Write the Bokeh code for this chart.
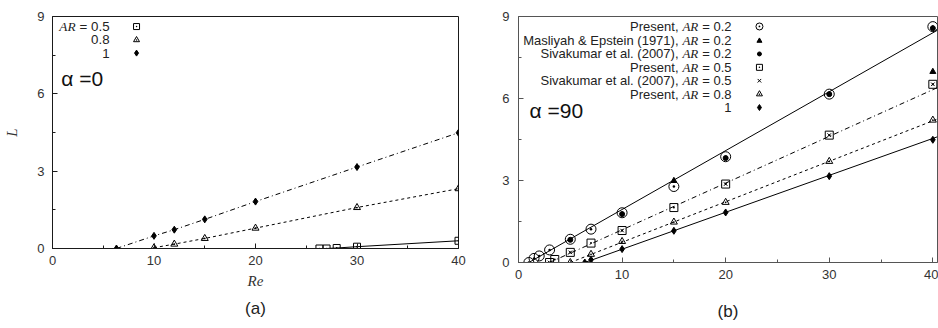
from bokeh.plotting import figure
from bokeh.models import FixedTicker, Range1d, Title
from bokeh.layouts import row
from bokeh.embed import file_html
from bokeh.resources import INLINE
from bokeh.core.properties import value

# ---------------- data: panel (a), alpha = 0 ----------------
a_re_05 = [26.3, 27.0, 28.0, 30.0, 40.0]
a_L_05 = [0.0, 0.0, 0.02, 0.07, 0.30]
a_re_08 = [10.0, 12.0, 15.0, 20.0, 30.0, 40.0]
a_L_08 = [0.03, 0.17, 0.39, 0.79, 1.59, 2.32]
a_re_10 = [6.3, 10.0, 12.0, 15.0, 20.0, 30.0, 40.0]
a_L_10 = [0.0, 0.49, 0.73, 1.13, 1.82, 3.16, 4.49]

# ---------------- data: panel (b), alpha = 90 ----------------
b_re_02 = [1.0, 1.5, 2.0, 3.0, 5.0, 7.0, 10.0, 15.0, 20.0, 30.0, 40.0]
b_L_02 = [0.0, 0.15, 0.24, 0.46, 0.85, 1.22, 1.82, 2.78, 3.87, 6.16, 8.63]
b_re_me02 = [15.0, 40.0]
b_L_me02 = [2.99, 6.98]
b_re_sk02 = [5.0, 10.0, 20.0, 30.0, 40.0]
b_L_sk02 = [0.83, 1.77, 3.82, 6.16, 8.57]
b_re_05 = [3.0, 3.5, 5.0, 7.0, 10.0, 15.0, 20.0, 30.0, 40.0]
b_L_05 = [0.0, 0.11, 0.37, 0.71, 1.17, 2.01, 2.87, 4.66, 6.52]
b_re_sk05 = [3.0, 5.0, 10.0, 20.0, 30.0, 40.0]
b_L_sk05 = [0.0, 0.37, 1.17, 2.87, 4.66, 6.52]
b_re_08 = [5.0, 7.0, 10.0, 15.0, 20.0, 30.0, 40.0]
b_L_08 = [0.0, 0.30, 0.77, 1.48, 2.20, 3.70, 5.21]
b_re_10 = [6.4, 7.0, 10.0, 15.0, 20.0, 30.0, 40.0]
b_L_10 = [0.0, 0.10, 0.49, 1.16, 1.83, 3.16, 4.49]

# straight fit lines in panel (b)
fit_re_02 = [1.0, 40.45]
fit_L_02 = [0.0, 8.5]
fit_re_05 = [3.0, 40.45]
fit_L_05 = [0.0, 6.4]
fit_re_08 = [5.0, 40.45]
fit_L_08 = [0.0, 5.25]
fit_re_10 = [6.4, 40.45]
fit_L_10 = [0.0, 4.6]

x_ticks = [0, 10, 20, 30, 40]
x_minor = [5, 15, 25, 35]
y_ticks = [0, 3, 6, 9]
y_minor = [1.5, 4.5, 7.5]

SANS = "Liberation Sans"
SERIF = "Liberation Serif"

# Arial-like advance widths (per 1000 em)
_W = {' ': 278, ',': 278, '.': 278, '(': 333, ')': 333, '=': 584, '&': 667,
      'A': 667, 'E': 667, 'M': 833, 'P': 667, 'S': 667,
      'a': 556, 'e': 556, 'i': 222, 'k': 500, 'l': 222, 'm': 833, 'n': 556,
      'p': 556, 'r': 333, 's': 500, 't': 278, 'u': 556, 'v': 500, 'y': 500,
      'h': 556, 'c': 500, 'o': 556}


def tw(s, size):
    return sum(_W.get(ch, 556) for ch in s) / 1000.0 * size


def ar_w(size):
    return 1.222 * size  # Times italic "AR"


def style(p, frame_color):
    p.outline_line_color = frame_color
    p.outline_line_width = 1
    p.grid.visible = False
    p.background_fill_color = "white"
    p.border_fill_color = "white"
    for ax in (p.xaxis[0], p.yaxis[0]):
        ax.axis_line_color = frame_color
        ax.major_tick_line_color = frame_color
        ax.minor_tick_line_color = frame_color
        ax.major_tick_in = 5
        ax.major_tick_out = 0
        ax.minor_tick_in = 3
        ax.minor_tick_out = 0
        ax.major_label_text_font = SANS
        ax.major_label_text_font_size = "13px"
        ax.major_label_text_color = "#333333"
    p.xaxis[0].ticker = FixedTicker(ticks=x_ticks, minor_ticks=x_minor)
    p.yaxis[0].ticker = FixedTicker(ticks=y_ticks, minor_ticks=y_minor)
    p.xaxis[0].major_label_standoff = 7
    p.yaxis[0].major_label_standoff = 8


# ---------------- panel (a) ----------------
pa = figure(width=468, height=328, output_backend="svg", toolbar_location=None,
            x_range=Range1d(0, 40), y_range=Range1d(0, 9), frame_align=False,
            min_border_left=52, min_border_right=10, min_border_top=16,
            min_border_bottom=80)
style(pa, "#1a1a1a")
pa.xaxis.axis_label = "Re"
pa.yaxis.axis_label = "L"
for ax in (pa.xaxis[0], pa.yaxis[0]):
    ax.axis_label_text_font = SERIF
    ax.axis_label_text_font_style = "italic"
    ax.axis_label_text_font_size = "15px"
    ax.axis_label_text_color = "#333333"
pa.xaxis[0].axis_label_standoff = 5
pa.yaxis[0].axis_label_standoff = 14

pa.line(a_re_10, a_L_10, line_color="black", line_width=1, line_dash="5 3 1 3")
pa.line(a_re_08, a_L_08, line_color="black", line_width=1, line_dash="3 3")
pa.line(a_re_05, a_L_05, line_color="black", line_width=1)
pa.scatter(a_re_05, a_L_05, marker="square_dot", size=7, fill_color=None,
           line_color="black")
pa.scatter(a_re_08, a_L_08, marker="triangle_dot", size=7, fill_color=None,
           line_color="black")
pa.scatter(a_re_10, a_L_10, marker="diamond", size=7, fill_color="black",
           line_color="black")

FS_A = 13.3
leg_a_xt = 5.62
leg_a_xm = 8.28
leg_a_y = [8.61, 8.09, 7.58]
pa.text(x=[leg_a_xt] * 3, y=leg_a_y, text=["= 0.5", "0.8", "1"],
        text_align="right", text_baseline="middle", text_font=value(SANS),
        text_font_size=f"{FS_A}px", text_color="#222222")
pa.text(x=[leg_a_xt], y=[leg_a_y[0]], text=["AR"],
        x_offset=[-(tw("= 0.5", FS_A) + 0.3 * FS_A)],
        text_align="right", text_baseline="middle", text_font=value(SERIF),
        text_font_style="italic", text_font_size=f"{FS_A}px", text_color="#222222")
pa.scatter([leg_a_xm], [leg_a_y[0]], marker="square_dot", size=6, fill_color=None,
           line_color="black")
pa.scatter([leg_a_xm], [leg_a_y[1]], marker="triangle_dot", size=6, fill_color=None,
           line_color="black")
pa.scatter([leg_a_xm], [leg_a_y[2]], marker="diamond", size=6, fill_color="black",
           line_color="black")
pa.text(x=[0.86], y=[6.6], text=["α =0"], text_align="left", text_baseline="middle",
        text_font=value(SANS), text_font_size="21px", text_color="#111111")
pa.add_layout(Title(text="(a)", align="center", text_font=SANS,
                    text_font_size="17px", text_font_style="normal",
                    text_color="#222222", standoff=11), "below")

# ---------------- panel (b) ----------------
pb = figure(width=470, height=328, output_backend="svg", toolbar_location=None,
            x_range=Range1d(0, 40.45), y_range=Range1d(0, 9), frame_align=False,
            min_border_left=50, min_border_right=1, min_border_top=16,
            min_border_bottom=66)
style(pb, "#555555")
pb.yaxis[0].major_label_standoff = 9
pb.xaxis.axis_label = "(b)"
pb.xaxis[0].axis_label_text_font = SANS
pb.xaxis[0].axis_label_text_font_style = "normal"
pb.xaxis[0].axis_label_text_font_size = "17px"
pb.xaxis[0].axis_label_text_color = "#222222"
pb.xaxis[0].axis_label_standoff = 20

pb.line(fit_re_02, fit_L_02, line_color="black", line_width=1)
pb.line(fit_re_05, fit_L_05, line_color="black", line_width=1, line_dash="5 3 1 3")
pb.line(fit_re_08, fit_L_08, line_color="black", line_width=1, line_dash="3 3")
pb.line(fit_re_10, fit_L_10, line_color="black", line_width=1)

pb.scatter(b_re_02, b_L_02, marker="circle_dot", size=10, fill_color=None,
           line_color="black")
pb.scatter(b_re_me02, b_L_me02, marker="triangle", size=6, fill_color="black",
           line_color="black")
pb.scatter(b_re_sk02, b_L_sk02, marker="circle", size=5, fill_color="black",
           line_color="black")
pb.scatter(b_re_05, b_L_05, marker="square_dot", size=8, fill_color=None,
           line_color="black")
pb.scatter(b_re_sk05, b_L_sk05, marker="x", size=5, line_color="black")
pb.scatter(b_re_08, b_L_08, marker="triangle_dot", size=7, fill_color=None,
           line_color="black")
pb.scatter(b_re_10, b_L_10, marker="diamond", size=7, fill_color="black",
           line_color="black")

FS_B = 13.0
leg_b_xt = 20.56
leg_b_xm = 23.26
leg_b_y = [8.635, 8.11, 7.63, 7.14, 6.65, 6.16, 5.67]
leg_prefix = ["Present,", "Masliyah & Epstein (1971),", "Sivakumar et al. (2007),",
              "Present,", "Sivakumar et al. (2007),", "Present,"]
leg_suffix = ["= 0.2", "= 0.2", "= 0.2", "= 0.5", "= 0.5", "= 0.8"]
GAP = 0.3 * FS_B
pb.text(x=[leg_b_xt] * 7, y=leg_b_y, text=leg_suffix + ["1"],
        text_align="right", text_baseline="middle", text_font=value(SANS),
        text_font_size=f"{FS_B}px", text_color="#222222")
pb.text(x=[leg_b_xt] * 6, y=leg_b_y[:6], text=["AR"] * 6,
        x_offset=[-(tw(s, FS_B) + GAP) for s in leg_suffix],
        text_align="right", text_baseline="middle", text_font=value(SERIF),
        text_font_style="italic", text_font_size=f"{FS_B}px", text_color="#222222")
pb.text(x=[leg_b_xt] * 6, y=leg_b_y[:6], text=leg_prefix,
        x_offset=[-(tw(s, FS_B) + 2 * GAP + ar_w(FS_B)) for s in leg_suffix],
        text_align="right", text_baseline="middle", text_font=value(SANS),
        text_font_size=f"{FS_B}px", text_color="#222222")
pb.scatter([leg_b_xm], [leg_b_y[0]], marker="circle_dot", size=7, fill_color=None,
           line_color="black")
pb.scatter([leg_b_xm], [leg_b_y[1]], marker="triangle", size=5, fill_color="black",
           line_color="black")
pb.scatter([leg_b_xm], [leg_b_y[2]], marker="circle", size=4, fill_color="black",
           line_color="black")
pb.scatter([leg_b_xm], [leg_b_y[3]], marker="square_dot", size=6, fill_color=None,
           line_color="black")
pb.scatter([leg_b_xm], [leg_b_y[4]], marker="x", size=5, line_color="black")
pb.scatter([leg_b_xm], [leg_b_y[5]], marker="triangle_dot", size=6, fill_color=None,
           line_color="black")
pb.scatter([leg_b_xm], [leg_b_y[6]], marker="diamond", size=6, fill_color="black",
           line_color="black")
pb.text(x=[1.06], y=[5.55], text=["α =90"], text_align="left", text_baseline="middle",
        text_font=value(SANS), text_font_size="21px", text_color="#111111")

layout = row(pa, pb)
open("out.html", "w").write(file_html(layout, INLINE))
